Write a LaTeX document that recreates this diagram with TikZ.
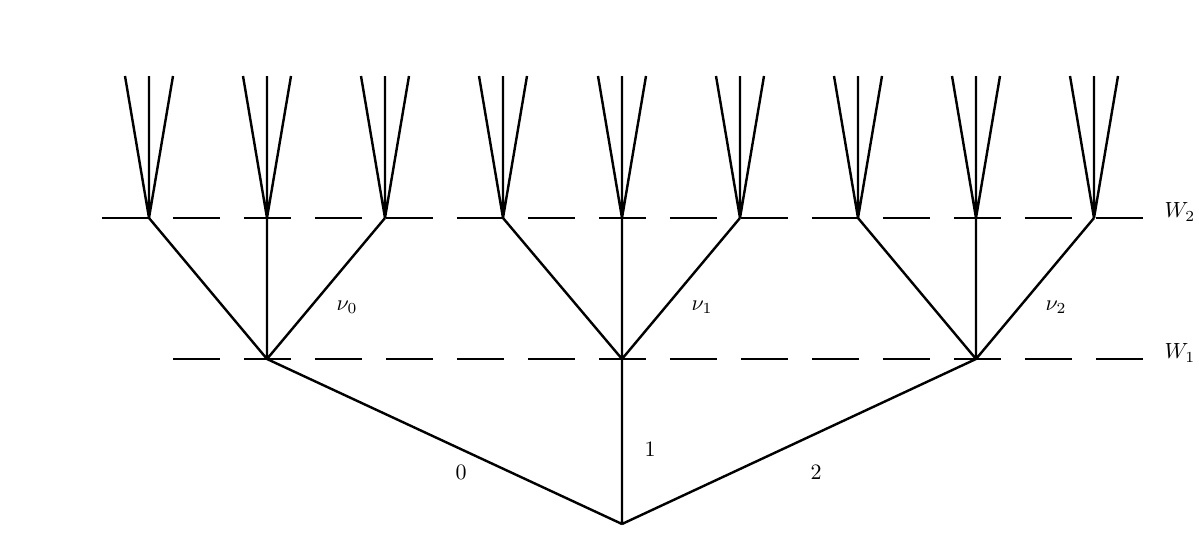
\documentclass[tikz,border=0pt]{standalone}
\begin{document}
\begin{tikzpicture}[x=0.455pt,y=-0.455pt,
  edge/.style={line width=1.1pt},
  level/.style={line width=1.1pt,dash pattern=on 21.4pt off 10.9pt},
  lab/.style={inner sep=1pt}]
\useasboundingbox (0,0) rectangle (1199,533);
% nodes
\coordinate (r) at (622,524);
\foreach \i/\x in {0/267,1/622,2/976}{\coordinate (a\i) at (\x,359);}
\foreach \i/\x in {0/149,1/267,2/385,3/503,4/622,5/740,6/858,7/976,8/1094}{
  \coordinate (b\i) at (\x,218);
  \coordinate (l\i a) at (\x-24,76);
  \coordinate (l\i b) at (\x,76);
  \coordinate (l\i c) at (\x+24,76);
  \draw[edge] (b\i) -- (l\i a) (b\i) -- (l\i b) (b\i) -- (l\i c);
}
% level lines
\coordinate (w2s) at (102,218); \coordinate (w2e) at (1143,218);
\coordinate (w1s) at (173,359); \coordinate (w1e) at (1143,359);
\draw[level] (w2s) -- (w2e);
\draw[level] (w1s) -- (w1e);
% edges
\draw[edge] (r) -- (a0) (r) -- (a1) (r) -- (a2);
\draw[edge] (a0) -- (b0) (a0) -- (b1) (a0) -- (b2);
\draw[edge] (a1) -- (b3) (a1) -- (b4) (a1) -- (b5);
\draw[edge] (a2) -- (b6) (a2) -- (b7) (a2) -- (b8);
% labels
\node[lab] (n0) at (347,307) {$\nu_0$};
\node[lab] (n1) at (702,307) {$\nu_1$};
\node[lab] (n2) at (1056,307) {$\nu_2$};
\node[lab] (e0) at (461,472) {$0$};
\node[lab] (e1) at (650,449) {$1$};
\node[lab] (e2) at (816,472) {$2$};
\node[lab,anchor=west] (W2) at (1162,212) {$W_2$};
\node[lab,anchor=west] (W1) at (1162,353) {$W_1$};
\end{tikzpicture}
\end{document}
